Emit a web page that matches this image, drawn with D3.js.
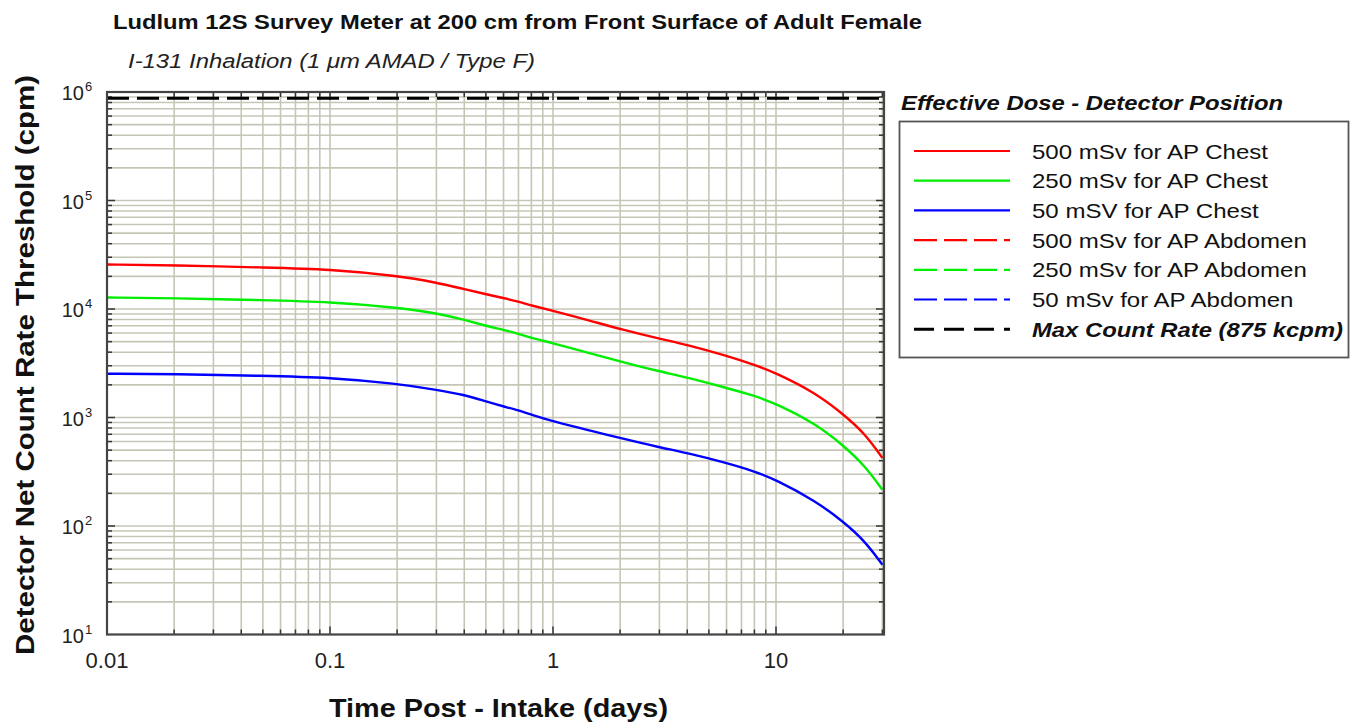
<!DOCTYPE html>
<html><head><meta charset="utf-8">
<script src="https://cdn.jsdelivr.net/npm/d3@7"></script>
<style>
html,body{margin:0;padding:0;background:#fff;}
svg{display:block;font-family:"Liberation Sans",Arial,sans-serif;}
</style></head>
<body><svg id="c" width="1351" height="725"></svg>
<script>
const days  = [0.01,0.02,0.05,0.1,0.2,0.3,0.4,0.5,0.6,0.7,0.8,1,1.5,2,3,4,6,8,10,15,20,25,30];
const chest500 = [25700,25350,24100,23300,20230,17540,15240,13710,12600,11720,10770,9620,7700,6530,5320,4680,3710,3060,2570,1690,1075,715,424];
const chest250 = [12770,12600,12050,11650,10330,9160,7950,7000,6430,5910,5400,4850,3860,3290,2660,2340,1870,1590,1340,880,555,360,216];
const chest50  = [2530,2520,2420,2340,2048,1802,1622,1407,1265,1162,1061,920,750,647,531,471,381,319,267,171,110,73,44];
const maxCountRate = 875000;
const xTickLabels = ["0.01","0.1","1","10"];
const xTickValues = [0.01,0.1,1,10];
const yTickExps = [1,2,3,4,5,6];
const legendLabels = ["500 mSv for AP Chest","250 mSv for AP Chest","50 mSV for AP Chest","500 mSv for AP Abdomen","250 mSv for AP Abdomen","50 mSv for AP Abdomen","Max Count Rate (875 kcpm)"];
const legendColors = ["#ff0000","#00ee00","#0000ff","#ff0000","#00ee00","#0000ff","#000000"];
const legendDashed = [false,false,false,true,true,true,true];

const svg = d3.select("#c");
const L=107, R=884, T=92, B=634.5;
const x = d3.scaleLog().domain([0.01,30.5]).range([L,R]);
const y = d3.scaleLog().domain([10,1e6]).range([B,T]);

function stretch(sel, factor){
  const w = sel.node().getComputedTextLength();
  sel.attr("textLength", w*factor).attr("lengthAdjust","spacingAndGlyphs");
}

// grid
const xMinor=[]; for(let d=-2; d<=1; d++){ for(let m=1;m<=9;m++){ const v=m*Math.pow(10,d); if(v>0.01 && v<30.5) xMinor.push(v);} }
const yMinor=[]; for(let d=1; d<=5; d++){ for(let m=1;m<=9;m++){ const v=m*Math.pow(10,d); if(v>10 && v<1e6) yMinor.push(v);} }
const grid = svg.append("g");
grid.selectAll(".gx").data(xMinor).join("line").attr("x1",d=>x(d)).attr("x2",d=>x(d)).attr("y1",T).attr("y2",B)
  .attr("stroke","#c6c6b6").attr("stroke-width",1.6);
grid.selectAll(".gy").data(yMinor).join("line").attr("y1",d=>y(d)).attr("y2",d=>y(d)).attr("x1",L).attr("x2",R)
  .attr("stroke","#c6c6b6").attr("stroke-width",1.6);

// ticks inside on all sides
const isMajor = v => Math.abs(Math.log10(v)-Math.round(Math.log10(v)))<1e-9;
const tk = svg.append("g").attr("stroke","#333").attr("stroke-width",1.5);
xMinor.forEach(v=>{ const len=isMajor(v)?8:5;
  tk.append("line").attr("x1",x(v)).attr("x2",x(v)).attr("y1",B).attr("y2",B-len);
  tk.append("line").attr("x1",x(v)).attr("x2",x(v)).attr("y1",T).attr("y2",T+len);});
yMinor.forEach(v=>{ const len=isMajor(v)?8:5;
  tk.append("line").attr("y1",y(v)).attr("y2",y(v)).attr("x1",L).attr("x2",L+len);
  tk.append("line").attr("y1",y(v)).attr("y2",y(v)).attr("x1",R).attr("x2",R-len);});

// clip
svg.append("clipPath").attr("id","clip").append("rect").attr("x",L).attr("y",T).attr("width",R-L).attr("height",B-T);
const plot = svg.append("g").attr("clip-path","url(#clip)");

// max count rate line
plot.append("line").attr("x1",L).attr("x2",R).attr("y1",y(maxCountRate)).attr("y2",y(maxCountRate))
  .attr("stroke","#000").attr("stroke-width",3).attr("stroke-dasharray","22,8");

const line = d3.line().x(d=>x(d[0])).y(d=>y(d[1])).curve(d3.curveBasis);
[[chest500,"#ff0000"],[chest250,"#00ee00"],[chest50,"#0000ff"]].forEach(([vals,col])=>{
  plot.append("path").datum(days.map((d,i)=>[d,vals[i]])).attr("d",line)
    .attr("fill","none").attr("stroke",col).attr("stroke-width",2.4);
});

// frame
svg.append("rect").attr("x",L).attr("y",T).attr("width",R-L).attr("height",B-T)
  .attr("fill","none").attr("stroke","#444").attr("stroke-width",2.2);

// x tick labels
svg.append("g").selectAll("text").data(xTickValues).join("text")
  .attr("x",d=>x(d)).attr("y",668).attr("text-anchor","middle").attr("font-size",22).attr("fill","#222")
  .text((d,i)=>xTickLabels[i]);

// y tick labels
const yl = svg.append("g");
yTickExps.forEach(e=>{
  yl.append("text").attr("x",84).attr("y",y(Math.pow(10,e))+8).attr("text-anchor","end")
    .attr("font-size",20).attr("fill","#222").text("10");
  yl.append("text").attr("x",85).attr("y",y(Math.pow(10,e))-1).attr("font-size",13).attr("fill","#222").text(e);
});

// titles
const t1 = svg.append("text").attr("x",113).attr("y",29).attr("font-size",20.5).attr("font-weight","bold").attr("fill","#111")
  .text("Ludlum 12S Survey Meter at 200 cm from Front Surface of Adult Female");
t1.attr("textLength",809).attr("lengthAdjust","spacingAndGlyphs");
const sub = svg.append("text").attr("x",128).attr("y",68).attr("font-size",20.5).attr("font-style","italic").attr("fill","#222")
  .text("I-131 Inhalation (1 \u03BCm AMAD / Type F)");
sub.attr("textLength",407).attr("lengthAdjust","spacingAndGlyphs");
svg.append("text").attr("x",329).attr("y",717).attr("font-size",25).attr("font-weight","bold").attr("fill","#111")
  .text("Time Post - Intake (days)").attr("textLength",339).attr("lengthAdjust","spacingAndGlyphs");
svg.append("text").attr("transform","translate(33.5,655) rotate(-90)").attr("font-size",25).attr("font-weight","bold").attr("fill","#111")
  .text("Detector Net Count Rate Threshold (cpm)").attr("textLength",580).attr("lengthAdjust","spacingAndGlyphs");

// legend
svg.append("text").attr("x",901).attr("y",110).attr("font-size",21).attr("font-weight","bold").attr("font-style","italic").attr("fill","#111")
  .text("Effective Dose - Detector Position").attr("textLength",382).attr("lengthAdjust","spacingAndGlyphs");
svg.append("rect").attr("x",899.5).attr("y",121.5).attr("width",449).attr("height",236).attr("fill","#fff").attr("stroke","#555").attr("stroke-width",1.8);
const lg = svg.append("g");
let k = null;
legendLabels.forEach((lab,i)=>{
  const yy = 151 + i*29.7;
  lg.append("line").attr("x1",914).attr("x2",1010).attr("y1",yy).attr("y2",yy).attr("stroke",legendColors[i])
    .attr("stroke-width",i===6?3:2.2).attr("stroke-dasharray",legendDashed[i]?(i===6?"20,10":"23,7"):null);
  const t = lg.append("text").attr("x",1032).attr("y",yy+7.5).attr("font-size",21).attr("fill","#111").text(lab);
  if(i===6) t.attr("font-weight","bold").attr("font-style","italic");
  if(k===null) k = 236 / t.node().getComputedTextLength();
  stretch(t, i===6 ? 311/ (t.node().getComputedTextLength()) : k);
});
</script></body></html>
